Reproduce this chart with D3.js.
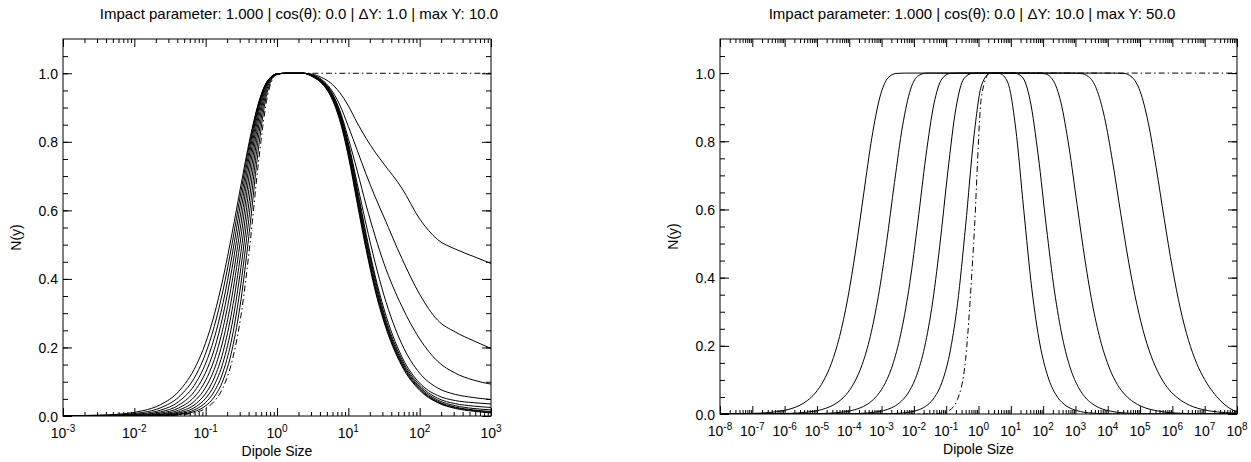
<!DOCTYPE html>
<html>
<head>
<meta charset="utf-8">
<script src="https://cdn.jsdelivr.net/npm/d3@7"></script>
<style>
  body { margin: 0; background: #fff; }
  svg text { font-family: "Liberation Sans", Arial, Helvetica, sans-serif; fill: #000; }
</style>
</head>
<body>
<svg id="chart" width="1251" height="462"></svg>
<script>
// ---- left panel: dY = 1, Y = 0..10 (Y = 0 is the dashed initial condition)
var leftTitle = "Impact parameter: 1.000 | cos(\u03b8): 0.0 | \u0394Y: 1.0 | max Y: 10.0";
var leftExp = [-3, -2, -1, 0, 1, 2, 3];
var leftLogR = [-3, -2.38, -1.88, -1.63, -1.38, -1.13, -1.005, -0.88, -0.755, -0.63, -0.505, -0.38, -0.255, -0.13, -0.005, 0.12, 0.37,
                0.5, 0.625, 0.75, 0.875, 1, 1.125, 1.25, 1.375, 1.5, 1.75, 2, 2.25, 2.5, 2.75, 3];
var leftY0  = [0, 0, 0.0002, 0.0007, 0.0028, 0.0109, 0.0217, 0.0428, 0.0836, 0.160, 0.293, 0.5, 0.749, 0.937, 0.996, 1, 1,
               1, 1, 1, 1, 1, 1, 1, 1, 1, 1, 1, 1, 1, 1, 1];
var leftY1  = [0, 0, 0.0003, 0.0011, 0.0041, 0.0152, 0.0291, 0.0556, 0.105, 0.193, 0.339, 0.552, 0.789, 0.951, 0.997, 1, 1,
               0.99, 0.971, 0.934, 0.866, 0.758, 0.62, 0.485, 0.367, 0.274, 0.146, 0.075, 0.039, 0.022, 0.014, 0.009];
var leftY2  = [0, 0, 0.0005, 0.0017, 0.0059, 0.0207, 0.0386, 0.0713, 0.129, 0.229, 0.387, 0.601, 0.822, 0.961, 0.998, 1, 1,
               0.99, 0.972, 0.936, 0.87, 0.764, 0.628, 0.492, 0.373, 0.279, 0.15, 0.078, 0.041, 0.024, 0.016, 0.011];
var leftY3  = [0, 0.0001, 0.0008, 0.0026, 0.0085, 0.0279, 0.0503, 0.0898, 0.157, 0.268, 0.434, 0.645, 0.849, 0.968, 0.998, 1, 1,
               0.99, 0.973, 0.938, 0.874, 0.77, 0.636, 0.50, 0.38, 0.285, 0.154, 0.081, 0.043, 0.026, 0.018, 0.013];
var leftY4  = [0, 0.0001, 0.0012, 0.0039, 0.0120, 0.0371, 0.0646, 0.111, 0.188, 0.309, 0.479, 0.685, 0.870, 0.973, 0.998, 1, 1,
               0.991, 0.975, 0.941, 0.879, 0.777, 0.645, 0.51, 0.39, 0.292, 0.159, 0.085, 0.047, 0.030, 0.022, 0.018];
var leftY5  = [0, 0.0002, 0.0020, 0.0057, 0.0168, 0.0486, 0.0819, 0.136, 0.222, 0.350, 0.523, 0.719, 0.887, 0.976, 0.998, 1, 1,
               0.992, 0.976, 0.944, 0.884, 0.785, 0.655, 0.52, 0.40, 0.30, 0.165, 0.09, 0.052, 0.036, 0.029, 0.025];
var leftY6  = [0.0001, 0.0004, 0.0030, 0.0084, 0.0231, 0.0626, 0.102, 0.164, 0.258, 0.391, 0.562, 0.747, 0.899, 0.978, 0.998, 1, 1,
               0.993, 0.977, 0.946, 0.887, 0.79, 0.664, 0.53, 0.41, 0.312, 0.173, 0.096, 0.06, 0.045, 0.039, 0.035];
var leftY7  = [0.0001, 0.0007, 0.0047, 0.0121, 0.0313, 0.0796, 0.125, 0.194, 0.295, 0.431, 0.597, 0.770, 0.907, 0.978, 0.998, 1, 1,
               0.993, 0.978, 0.948, 0.89, 0.797, 0.678, 0.558, 0.448, 0.352, 0.21, 0.125, 0.082, 0.063, 0.054, 0.048];
var leftY8  = [0.0002, 0.0012, 0.0071, 0.0172, 0.0417, 0.0994, 0.151, 0.227, 0.331, 0.468, 0.628, 0.787, 0.912, 0.978, 0.997, 1, 1,
               0.994, 0.98, 0.95, 0.895, 0.81, 0.715, 0.615, 0.525, 0.445, 0.32, 0.225, 0.16, 0.125, 0.105, 0.093];
var leftY9  = [0.0004, 0.0020, 0.0105, 0.0242, 0.0550, 0.122, 0.180, 0.261, 0.368, 0.502, 0.654, 0.801, 0.914, 0.977, 0.997, 1, 1,
               0.995, 0.982, 0.955, 0.91, 0.845, 0.775, 0.705, 0.64, 0.58, 0.46, 0.355, 0.28, 0.245, 0.22, 0.197];
var leftY10 = [0.0007, 0.0033, 0.0155, 0.0334, 0.0713, 0.149, 0.211, 0.295, 0.403, 0.533, 0.674, 0.809, 0.916, 0.979, 0.996, 1, 1,
               0.997, 0.988, 0.972, 0.945, 0.905, 0.855, 0.81, 0.77, 0.735, 0.665, 0.575, 0.515, 0.487, 0.466, 0.445];

// ---- right panel: dY = 10, Y = 0..50 ; each curve has its own log10(r) samples
var rightTitle = "Impact parameter: 1.000 | cos(\u03b8): 0.0 | \u0394Y: 10.0 | max Y: 50.0";
var rightExp = [-8, -7, -6, -5, -4, -3, -2, -1, 0, 1, 2, 3, 4, 5, 6, 7, 8];

var rightR0  = [-8, -1.9, -1.65, -1.4, -1.15, -0.9, -0.65, -0.4, -0.15, 0.1, 0.35, 8];
var rightY0  = [0, 0, 0.0002, 0.0007, 0.0028, 0.0109, 0.0428, 0.160, 0.5, 0.937, 1, 1];

var rightR10 = [-8, -3.65, -3.4, -3.15, -2.9, -2.65, -2.4, -2.15, -1.9, -1.65, -1.4, -1.15, -0.9, -0.65, -0.4, -0.15, 0.1, 0.35,
                0.5, 0.65, 0.9, 1.15, 1.4, 1.65, 1.9, 2.15, 2.4, 2.65, 2.9, 3.15, 3.4, 3.65, 3.9, 4.15, 4.4, 4.65, 8];
var rightY10 = [0, 0.0001, 0.0001, 0.0003, 0.0006, 0.0012, 0.0025, 0.0052, 0.0106, 0.0217, 0.044, 0.088, 0.173, 0.323, 0.551, 0.807, 0.966, 0.999,
                1, 0.999, 0.974, 0.839, 0.599, 0.367, 0.205, 0.109, 0.056, 0.0285, 0.0144, 0.0072, 0.0036, 0.0018, 0.0009, 0.0005, 0.0002, 0.0001, 0];

var rightR20 = [-8, -4.7, -4.45, -4.2, -3.95, -3.7, -3.45, -3.2, -2.95, -2.7, -2.45, -2.2, -1.95, -1.7, -1.45, -1.2, -0.95, -0.7, -0.45, -0.2,
                0.05, 1.1, 1.35, 1.6, 1.85, 2.1, 2.35, 2.6, 2.85, 3.1, 3.35, 3.6, 3.85, 4.1, 4.35, 4.6, 4.85, 5.1, 5.35, 5.6, 8];
var rightY20 = [0, 0.0001, 0.0003, 0.0005, 0.0009, 0.0016, 0.0029, 0.0054, 0.0098, 0.0178, 0.0324, 0.0586, 0.1045, 0.183, 0.309, 0.492, 0.710, 0.896, 0.984, 0.999,
                1, 1, 0.989, 0.919, 0.757, 0.549, 0.361, 0.223, 0.132, 0.077, 0.044, 0.025, 0.014, 0.008, 0.0045, 0.0025, 0.0014, 0.0008, 0.0004, 0.0002, 0];

var rightR30 = [-8, -6.38, -6.13, -5.88, -5.63, -5.38, -5.13, -4.88, -4.63, -4.38, -4.13, -3.88, -3.63, -3.38, -3.13, -2.88, -2.63, -2.38, -2.13, -1.88, -1.63, -1.38, -1.13, -0.88,
                -0.63, 1.8, 2.05, 2.3, 2.55, 2.8, 3.05, 3.3, 3.55, 3.8, 4.05, 4.3, 4.55, 4.8, 5.05, 5.3, 5.55, 5.8, 6.05, 6.3, 6.55, 7, 8];
var rightY30 = [0, 0.0001, 0.0001, 0.0002, 0.0003, 0.0005, 0.0008, 0.0013, 0.0023, 0.0039, 0.0066, 0.0113, 0.0192, 0.0326, 0.055, 0.092, 0.152, 0.246, 0.382, 0.561, 0.755, 0.909, 0.983, 0.999,
                1, 1, 0.998, 0.980, 0.914, 0.783, 0.615, 0.449, 0.310, 0.207, 0.135, 0.086, 0.055, 0.035, 0.022, 0.014, 0.009, 0.005, 0.003, 0.002, 0.001, 0.0005, 0];

var rightR40 = [-8, -7.6, -7.35, -7.1, -6.85, -6.6, -6.35, -6.1, -5.85, -5.6, -5.35, -5.1, -4.85, -4.6, -4.35, -4.1, -3.85, -3.6, -3.35, -3.1, -2.85, -2.6, -2.35, -2.1, -1.85,
                -1.6, 2.9, 3.15, 3.4, 3.65, 3.9, 4.15, 4.4, 4.65, 4.9, 5.15, 5.4, 5.65, 5.9, 6.15, 6.4, 6.65, 6.9, 7.15, 7.4, 7.65, 7.9, 8];
var rightY40 = [0.0001, 0.0001, 0.0001, 0.0002, 0.0003, 0.0004, 0.0007, 0.0011, 0.0018, 0.0030, 0.0049, 0.0080, 0.0131, 0.0214, 0.0349, 0.0566, 0.0912, 0.145, 0.227, 0.345, 0.500, 0.679, 0.845, 0.953, 0.993,
                1, 1, 0.999, 0.990, 0.954, 0.870, 0.740, 0.589, 0.444, 0.322, 0.226, 0.156, 0.106, 0.071, 0.048, 0.032, 0.021, 0.014, 0.009, 0.006, 0.004, 0.003, 0.0025];

var rightR50 = [-8, -7.55, -7.3, -7.05, -6.8, -6.55, -6.3, -6.05, -5.8, -5.55, -5.3, -5.05, -4.8, -4.55, -4.3, -4.05, -3.8, -3.55, -3.3, -3.05, -2.8, -2.55,
                -2.3, 4.25, 4.5, 4.75, 5.0, 5.25, 5.5, 5.75, 6.0, 6.25, 6.5, 6.75, 7.0, 7.25, 7.5, 7.75, 8];
var rightY50 = [0.0003, 0.0006, 0.0010, 0.0015, 0.0024, 0.0039, 0.0062, 0.0098, 0.0156, 0.0247, 0.0392, 0.0616, 0.0966, 0.149, 0.227, 0.337, 0.481, 0.648, 0.811, 0.930, 0.986, 0.999,
                1, 1, 0.999, 0.988, 0.947, 0.856, 0.722, 0.571, 0.428, 0.308, 0.216, 0.149, 0.101, 0.065, 0.038, 0.018, 0.006];

var yMajor = [0, 0.2, 0.4, 0.6, 0.8, 1.0];

var svg = d3.select("#chart");

function drawPanel(p) {
  var x = d3.scaleLog()
    .domain([Math.pow(10, p.exps[0]), Math.pow(10, p.exps[p.exps.length - 1])])
    .range([p.left, p.right]);
  var y = d3.scaleLinear().domain([0, 1.1]).range([p.bottom, p.top]);

  var majors = p.exps.map(function(e) { return Math.pow(10, e); });
  var minors = [];
  p.exps.slice(0, -1).forEach(function(e) {
    for (var k = 2; k <= 9; k++) minors.push(k * Math.pow(10, e));
  });
  var yMinor = d3.range(0.05, 1.1, 0.05);

  var g = svg.append("g");

  // clip so curves stay inside the box
  var clipId = "clip" + p.id;
  g.append("clipPath").attr("id", clipId)
    .append("rect")
      .attr("x", p.left).attr("y", p.top)
      .attr("width", p.right - p.left).attr("height", p.bottom - p.top);

  // curves
  var line = d3.line()
    .x(function(d) { return x(Math.pow(10, d[0])); })
    .y(function(d) { return y(d[1]); })
    .curve(d3.curveMonotoneX);

  g.append("g").attr("clip-path", "url(#" + clipId + ")")
    .selectAll("path")
    .data(p.series)
    .enter()
    .append("path")
      .attr("d", function(s) { return line(s.logR.map(function(r, i) { return [r, s.values[i]]; })); })
      .attr("fill", "none")
      .attr("stroke", "#000")
      .attr("stroke-width", 1)
      .attr("stroke-dasharray", function(s) { return s.dashed ? "6,3,1.5,3" : null; });

  // ticks (all pointing inward, on all four sides)
  function ticks(axis, tr) {
    var a = g.append("g").attr("transform", tr).call(axis);
    a.select(".domain").remove();
    a.selectAll("line").attr("stroke", "#000").attr("stroke-width", 1);
    return a;
  }
  var bx = "translate(0," + p.bottom + ")", tx = "translate(0," + p.top + ")";
  var ly = "translate(" + p.left + ",0)", ry = "translate(" + p.right + ",0)";
  ticks(d3.axisBottom(x).tickValues(majors).tickSize(-8).tickFormat(""), bx);
  ticks(d3.axisBottom(x).tickValues(minors).tickSize(-4).tickFormat(""), bx);
  ticks(d3.axisTop(x).tickValues(majors).tickSize(-8).tickFormat(""), tx);
  ticks(d3.axisTop(x).tickValues(minors).tickSize(-4).tickFormat(""), tx);
  ticks(d3.axisRight(y).tickValues(yMajor).tickSize(-9).tickFormat(""), ry);
  ticks(d3.axisRight(y).tickValues(yMinor).tickSize(-5).tickFormat(""), ry);
  ticks(d3.axisLeft(y).tickValues(yMinor).tickSize(-5).tickFormat(""), ly);
  var yl = ticks(d3.axisLeft(y).tickValues(yMajor).tickSize(-9).tickPadding(5).tickFormat(d3.format(".1f")), ly);
  yl.attr("font-family", null).attr("font-size", null);
  yl.selectAll("text").style("font-size", "14px").attr("dy", "0.36em");

  // frame
  g.append("rect")
    .attr("x", p.left).attr("y", p.top)
    .attr("width", p.right - p.left).attr("height", p.bottom - p.top)
    .attr("fill", "none").attr("stroke", "#000").attr("stroke-width", 1);

  // x tick labels 10^n
  var xl = g.append("g").selectAll("text").data(p.exps).enter().append("text")
    .attr("x", function(e) { return x(Math.pow(10, e)); })
    .attr("y", p.bottom + 22)
    .attr("text-anchor", "middle")
    .style("font-size", "14px");
  xl.append("tspan").text("10");
  xl.append("tspan").attr("dy", -6).style("font-size", "10px").text(function(e) { return e; });

  // axis titles
  g.append("text")
    .attr("x", (p.left + p.right) / 2).attr("y", p.bottom + 40)
    .attr("text-anchor", "middle").style("font-size", "14px")
    .text("Dipole Size");
  g.append("text")
    .attr("transform", "translate(" + (p.left - 42) + "," + ((p.top + p.bottom) / 2 + 10) + ") rotate(-90)")
    .attr("text-anchor", "middle").style("font-size", "14px")
    .text("N(y)");
  g.append("text")
    .attr("x", p.titleX).attr("y", 19)
    .attr("text-anchor", "middle").style("font-size", "15px")
    .text(p.title);
}

drawPanel({
  id: "L", title: leftTitle, titleX: 299, exps: leftExp,
  left: 63, right: 491, top: 39, bottom: 416,
  series: [leftY1, leftY2, leftY3, leftY4, leftY5, leftY6, leftY7, leftY8, leftY9, leftY10]
    .map(function(v) { return { logR: leftLogR, values: v, dashed: false }; })
    .concat([{ logR: leftLogR, values: leftY0, dashed: true }])
});

drawPanel({
  id: "R", title: rightTitle, titleX: 972, exps: rightExp,
  left: 720, right: 1237, top: 39, bottom: 414,
  series: [
    { logR: rightR10, values: rightY10, dashed: false },
    { logR: rightR20, values: rightY20, dashed: false },
    { logR: rightR30, values: rightY30, dashed: false },
    { logR: rightR40, values: rightY40, dashed: false },
    { logR: rightR50, values: rightY50, dashed: false },
    { logR: rightR0,  values: rightY0,  dashed: true }
  ]
});
</script>
</body>
</html>
